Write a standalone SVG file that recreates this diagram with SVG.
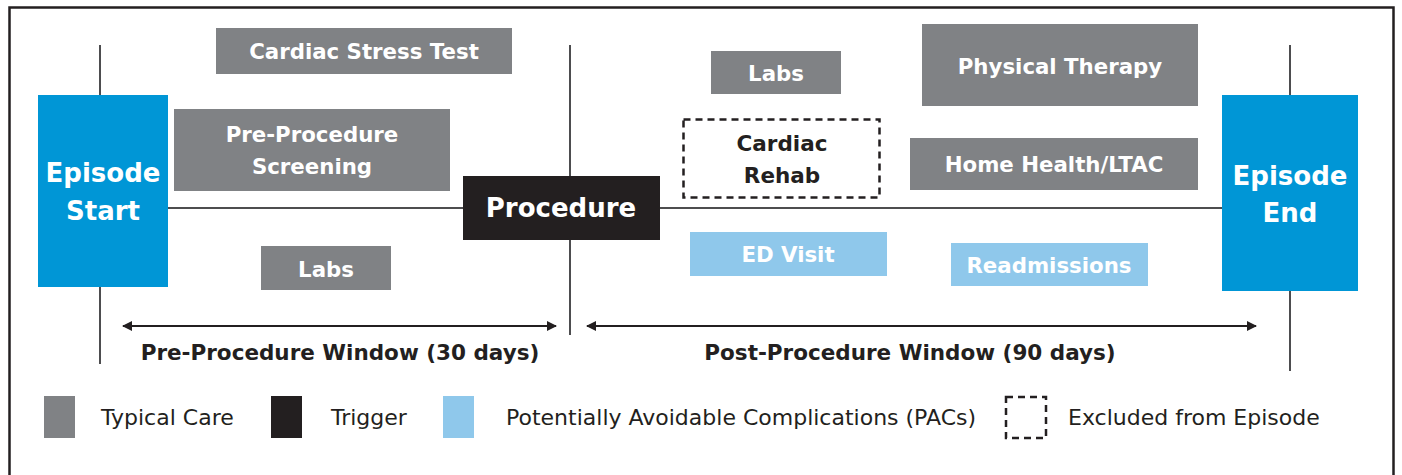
<svg xmlns="http://www.w3.org/2000/svg" width="1402" height="475" viewBox="0 0 1402 475">
<defs>
<style>
.typ{fill:#808285}
.pac{fill:#8fc8eb}
.ep{fill:#0096d6}
.trg{fill:#231f20}
.wt{fill:#ffffff;font-family:"DejaVu Sans","Open Sans",sans-serif;font-weight:700;font-size:21.3px;text-anchor:middle;dominant-baseline:central}
.big{font-size:26px}
.dk{fill:#231f20;font-family:"DejaVu Sans","Open Sans",sans-serif;font-weight:700;font-size:21.5px;text-anchor:middle;dominant-baseline:central}
.lg{fill:#231f20;font-family:"DejaVu Sans","Open Sans",sans-serif;font-size:22px;dominant-baseline:central}
.ln{stroke:#4d4d4f;stroke-width:2;fill:none}
.ar{stroke:#231f20;stroke-width:2;fill:none;marker-start:url(#ah);marker-end:url(#ah)}
.dash{fill:#fff;stroke:#231f20;stroke-width:2.5;stroke-dasharray:7 5}
</style>
<marker id="ah" viewBox="0 0 10 10" refX="9" refY="5" markerWidth="16" markerHeight="10" markerUnits="userSpaceOnUse" orient="auto-start-reverse">
<path d="M0,0 L10,5 L0,10 z" fill="#231f20"/>
</marker>
</defs>
<rect x="0" y="0" width="1402" height="475" fill="#fff"/>
<path d="M9.5,476 V7.5 H1393.5 V476" fill="none" stroke="#231f20" stroke-width="2.5"/>
<g id="connectors">
<line class="ln" x1="100" y1="45" x2="100" y2="364"/>
<line class="ln" x1="570" y1="45" x2="570" y2="335"/>
<line class="ln" x1="1290" y1="45" x2="1290" y2="371"/>
<line class="ln" x1="168" y1="208" x2="1222" y2="208"/>
<line class="ar" x1="123" y1="326" x2="556" y2="326"/>
<line class="ar" x1="587" y1="326" x2="1256" y2="326"/>
</g>
<g id="episode-start">
<rect class="ep" x="38" y="95" width="130" height="192"/>
<text class="wt big" x="103" y="173">Episode</text>
<text class="wt big" x="103" y="211">Start</text>
</g>
<g id="episode-end">
<rect class="ep" x="1222" y="95" width="136" height="196"/>
<text class="wt big" x="1290" y="176">Episode</text>
<text class="wt big" x="1290" y="213">End</text>
</g>
<g id="procedure">
<rect class="trg" x="463" y="176" width="197" height="64"/>
<text class="wt big" x="561" y="208">Procedure</text>
</g>
<g id="cardiac-stress-test">
<rect class="typ" x="216" y="28" width="296" height="46"/>
<text class="wt" x="364" y="51">Cardiac Stress Test</text>
</g>
<g id="pre-procedure-screening">
<rect class="typ" x="174" y="109" width="276" height="82"/>
<text class="wt" x="312" y="134">Pre-Procedure</text>
<text class="wt" x="312" y="166">Screening</text>
</g>
<g id="labs-pre">
<rect class="typ" x="261" y="246" width="130" height="44"/>
<text class="wt" x="326" y="269">Labs</text>
</g>
<g id="labs-post">
<rect class="typ" x="711" y="51" width="130" height="43"/>
<text class="wt" x="776" y="73">Labs</text>
</g>
<g id="physical-therapy">
<rect class="typ" x="922" y="24" width="276" height="82"/>
<text class="wt" x="1060" y="66">Physical Therapy</text>
</g>
<g id="cardiac-rehab">
<rect class="dash" x="683.5" y="119.5" width="196" height="78"/>
<text class="dk" x="782" y="143">Cardiac</text>
<text class="dk" x="782" y="175">Rehab</text>
</g>
<g id="home-health">
<rect class="typ" x="910" y="138" width="288" height="52"/>
<text class="wt" x="1054" y="164">Home Health/LTAC</text>
</g>
<g id="ed-visit">
<rect class="pac" x="690" y="232" width="197" height="44"/>
<text class="wt" x="788" y="254">ED Visit</text>
</g>
<g id="readmissions">
<rect class="pac" x="951" y="243" width="197" height="43"/>
<text class="wt" x="1049" y="265">Readmissions</text>
</g>
<g id="window-labels">
<text class="dk" x="340" y="352">Pre-Procedure Window (30 days)</text>
<text class="dk" x="910" y="352">Post-Procedure Window (90 days)</text>
</g>
<g id="legend">
<rect class="typ" x="44" y="396" width="31" height="42"/>
<text class="lg" x="101" y="417">Typical Care</text>
<rect class="trg" x="271" y="396" width="31" height="42"/>
<text class="lg" x="331" y="417">Trigger</text>
<rect class="pac" x="443" y="396" width="31" height="42"/>
<text class="lg" x="506" y="417">Potentially Avoidable Complications (PACs)</text>
<rect class="dash" x="1006" y="397" width="40" height="41"/>
<text class="lg" x="1068" y="417">Excluded from Episode</text>
</g>
</svg>
